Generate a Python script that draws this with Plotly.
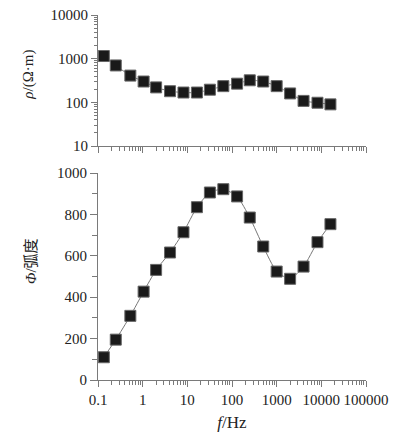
import plotly.graph_objects as go

freq = [0.135, 0.25, 0.53, 1.05, 2.0, 4.1, 8.2, 16.4, 32, 64, 130, 250, 500, 1000, 2000, 4000, 8200, 16000]
rho = [1150, 700, 410, 300, 220, 180, 168, 168, 195, 235, 268, 320, 300, 235, 160, 108, 98, 90]
phi = [110, 195, 310, 427, 532, 616, 714, 835, 906, 922, 887, 785, 645, 524, 489, 548, 666, 753]

x_tickvals = [0.1, 1, 10, 100, 1000, 10000, 100000]
x_ticktext = ["0.1", "1", "10", "100", "1000", "10000", "100000"]
y1_tickvals = [10, 100, 1000, 10000]
y1_ticktext = ["10", "100", "1000", "10000"]
y2_tickvals = [0, 200, 400, 600, 800, 1000]
y2_minor = [100, 300, 500, 700, 900]

x_minor = [m * 10 ** e for e in range(-1, 5) for m in range(2, 10)]
y1_minor = [m * 10 ** e for e in range(1, 4) for m in range(2, 10)]

FONT = "Liberation Serif, Times New Roman, serif"
AX = "#7a7a7a"
mk = dict(symbol="square", size=11, color="#1a1a1a", line=dict(color="#666", width=1))
ln = dict(color="#777", width=1, shape="spline", smoothing=0.6)

fig = go.Figure()
fig.add_trace(go.Scatter(x=freq, y=rho, mode="lines+markers", marker=mk, line=ln,
                         xaxis="x", yaxis="y", showlegend=False))
fig.add_trace(go.Scatter(x=freq, y=phi, mode="lines+markers", marker=mk, line=ln,
                         xaxis="x2", yaxis="y2", showlegend=False))

common_x = dict(type="log", range=[-1, 5], showgrid=False, zeroline=False, automargin=False,
                showline=True, linecolor=AX, linewidth=1, tickangle=0, ticklabeloverflow="allow",
                ticks="outside", ticklen=6, tickcolor=AX, tickvals=x_tickvals,
                minor=dict(ticks="outside", ticklen=4, tickcolor=AX, tickvals=x_minor))

fig.update_layout(
    width=381, height=426,
    margin=dict(l=90, r=23, t=7, b=54),
    paper_bgcolor="white", plot_bgcolor="white",
    font=dict(family=FONT, size=15, color="#222"),
    xaxis=dict(common_x, anchor="y", showticklabels=False),
    xaxis2=dict(common_x, anchor="y2", ticktext=x_ticktext, tickfont=dict(size=15),
                title=dict(text="<i>f</i>/Hz", font=dict(size=17), standoff=9)),
    yaxis=dict(type="log", range=[1, 4], domain=[0.641, 1], showgrid=False, zeroline=False,
               automargin=False, ticklabeloverflow="allow",
               showline=True, linecolor=AX, linewidth=1, ticks="outside", ticklen=6,
               tickcolor=AX, tickvals=y1_tickvals, ticktext=y1_ticktext,
               minor=dict(ticks="outside", ticklen=3, tickcolor=AX, tickvals=y1_minor)),
    yaxis2=dict(range=[0, 1000], domain=[0, 0.567], showgrid=False, zeroline=False,
                automargin=False, ticklabeloverflow="allow",
                showline=True, linecolor=AX, linewidth=1, ticks="outside", ticklen=7,
                tickcolor=AX, tickvals=y2_tickvals,
                minor=dict(ticks="outside", ticklen=5, tickcolor=AX, tickvals=y2_minor)),
    annotations=[
        dict(text="<i>ρ</i>/(Ω·m)", xref="paper", yref="paper", x=-0.258, y=0.836,
             xanchor="center", yanchor="middle", textangle=-90, showarrow=False,
             font=dict(size=15)),
        dict(text="<i>Φ</i>/弧度", xref="paper", yref="paper", x=-0.25, y=0.326,
             xanchor="center", yanchor="middle", textangle=-90, showarrow=False,
             font=dict(size=15, family="Liberation Serif, Noto Sans CJK SC")),
    ],
)

fig.write_html("out.html")
